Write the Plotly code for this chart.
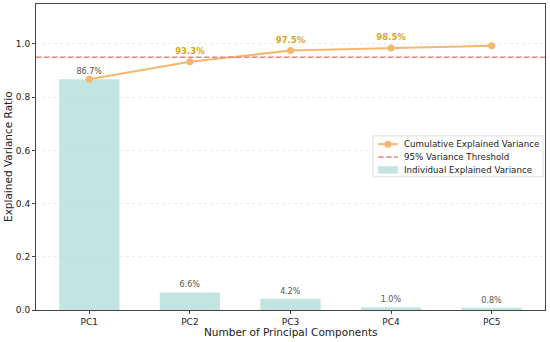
import plotly.graph_objects as go

components = ["PC1", "PC2", "PC3", "PC4", "PC5"]
individual = [0.867, 0.066, 0.042, 0.010, 0.008]
cumulative = [0.867, 0.933, 0.975, 0.985, 0.993]
individual_labels = ["86.7%", "6.6%", "4.2%", "1.0%", "0.8%"]
cumulative_labels = ["", "93.3%", "97.5%", "98.5%", ""]
threshold = 0.95
y_ticks = [0.0, 0.2, 0.4, 0.6, 0.8, 1.0]
legend_names = ["Cumulative Explained Variance", "95% Variance Threshold",
                "Individual Explained Variance"]

FONT = "DejaVu Sans"
LINE_C = "#f5b76d"
THR_C = "#e8827a"
BAR_C = "rgba(168,218,214,0.7)"
DASH = "5.5px,2.5px"
xs = list(range(len(components)))

fig = go.Figure()
fig.add_trace(go.Bar(
    x=xs, y=individual, name=legend_names[2],
    width=0.6, marker=dict(color=BAR_C, line=dict(width=0)),
    text=individual_labels, textposition="outside", cliponaxis=False,
    textfont=dict(family=FONT, size=8, color="#555555"),
))
fig.add_trace(go.Scatter(
    x=xs, y=cumulative, mode="lines+markers+text",
    name=legend_names[0],
    line=dict(color=LINE_C, width=2),
    marker=dict(color=LINE_C, size=7),
    text=cumulative_labels, textposition="top center",
    textfont=dict(family=FONT, size=8.5, color="#d9a520", weight="bold"),
))
fig.add_shape(type="line", xref="paper", x0=0, x1=1, yref="y", y0=threshold, y1=threshold,
              line=dict(color=THR_C, width=1.5, dash=DASH), layer="above")

# axis titles
fig.add_annotation(text="Number of Principal Components", xref="paper", yref="paper",
                   x=0.5, y=0, yshift=-22, xanchor="center", yanchor="middle",
                   showarrow=False, font=dict(family=FONT, size=10.5, color="#222222"))
fig.add_annotation(text="Explained Variance Ratio", xref="paper", yref="paper",
                   x=0, y=0.5, xshift=-28, xanchor="center", yanchor="middle", textangle=-90,
                   showarrow=False, font=dict(family=FONT, size=10.5, color="#222222"))

# compact legend (matplotlib style)
lx0, lx1, ly0, ly1 = 0.662, 0.996, 0.435, 0.569
fig.add_shape(type="rect", xref="paper", yref="paper", x0=lx0, x1=lx1, y0=ly0, y1=ly1,
              line=dict(color="#dddddd", width=1), fillcolor="rgba(255,255,255,0.85)",
              layer="above")
rows = [0.542, 0.500, 0.458]
sx0, sx1, tx = 0.672, 0.711, 0.719
fig.add_shape(type="line", xref="paper", yref="paper", x0=sx0, x1=sx1, y0=rows[0], y1=rows[0],
              line=dict(color=LINE_C, width=2), layer="above")
fig.add_shape(type="circle", xref="paper", yref="paper", xsizemode="pixel", ysizemode="pixel",
              xanchor=(sx0 + sx1) / 2, yanchor=rows[0], x0=-3.5, x1=3.5, y0=-3.5, y1=3.5,
              fillcolor=LINE_C, line=dict(width=0), layer="above")
fig.add_shape(type="line", xref="paper", yref="paper", x0=sx0, x1=sx1, y0=rows[1], y1=rows[1],
              line=dict(color=THR_C, width=1.5, dash=DASH), layer="above")
fig.add_shape(type="rect", xref="paper", yref="paper", x0=sx0, x1=sx1,
              y0=rows[2] - 0.012, y1=rows[2] + 0.012,
              fillcolor=BAR_C, line=dict(width=0), layer="above")
for name, ry in zip(legend_names, rows):
    fig.add_annotation(text=name, xref="paper", yref="paper", x=tx, y=ry,
                       xanchor="left", yanchor="middle", showarrow=False,
                       font=dict(family=FONT, size=8.7, color="#222222"))

fig.update_layout(
    width=550, height=342,
    margin=dict(l=36, r=5, t=4, b=32),
    paper_bgcolor="white", plot_bgcolor="white",
    font=dict(family=FONT, size=9, color="#222222"),
    showlegend=False,
    xaxis=dict(range=[-0.53, 4.53], tickmode="array", tickvals=xs, ticktext=components,
               showgrid=False, zeroline=False, showline=True, linecolor="#444444",
               mirror=True, ticks="outside", ticklen=3, tickcolor="#444444",
               automargin=False),
    yaxis=dict(range=[0, 1.15], tickmode="array", tickvals=y_ticks,
               ticktext=[f"{v:.1f}" for v in y_ticks],
               showgrid=True, gridcolor="rgba(0,0,0,0.07)", griddash="dot",
               zeroline=False, showline=True, linecolor="#444444", mirror=True,
               ticks="outside", ticklen=3, tickcolor="#444444",
               automargin=False),
)

fig.write_html("out.html", config={"displayModeBar": False},
               post_script="document.body.style.margin='0';")
